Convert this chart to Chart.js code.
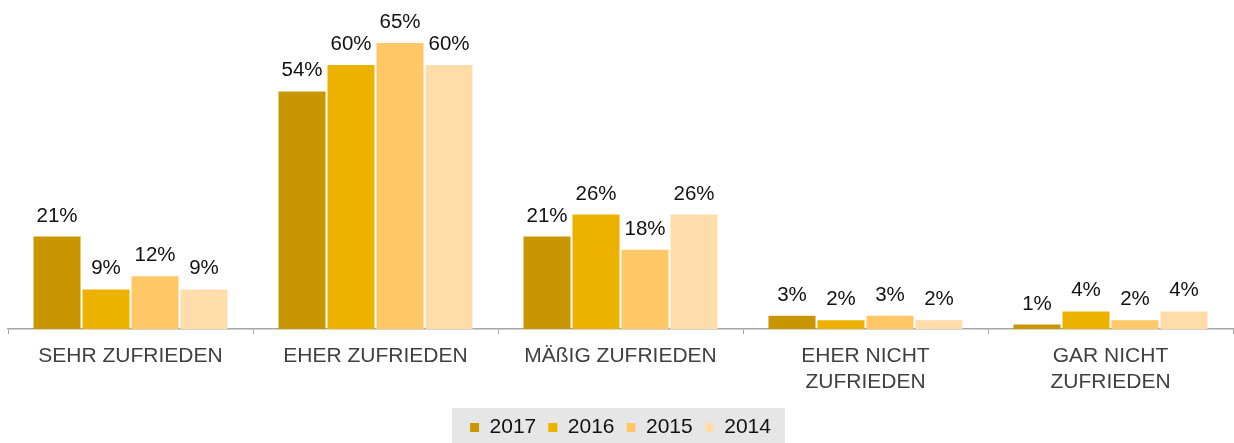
<!DOCTYPE html>
<html>
<head>
<meta charset="utf-8">
<script src="https://cdn.jsdelivr.net/npm/chart.js@4/dist/chart.umd.min.js"></script>
<style>
  html, body { margin: 0; padding: 0; background: #fff; }
  #wrap { width: 1234px; height: 443px; position: relative; }
</style>
</head>
<body>
<div id="wrap"><canvas id="chart"></canvas></div>
<script>
const categories = [
    ['SEHR ZUFRIEDEN'],
    ['EHER ZUFRIEDEN'],
    ['MÄßIG ZUFRIEDEN'],
    ['EHER NICHT', 'ZUFRIEDEN'],
    ['GAR NICHT', 'ZUFRIEDEN']
];
const years = ['2017', '2016', '2015', '2014'];
const values2017 = [21, 54, 21, 3, 1];
const values2016 = [9, 60, 26, 2, 4];
const values2015 = [12, 65, 18, 3, 2];
const values2014 = [9, 60, 26, 2, 4];
const colors = ['#C89600', '#EDB200', '#FFC766', '#FFDDAA'];

const FONT = "'Liberation Sans', Arial, Helvetica, sans-serif";

// value labels above each bar
const barLabels = {
    id: 'barLabels',
    afterDatasetsDraw(chart) {
        const ctx = chart.ctx;
        ctx.save();
        ctx.font = '20.5px ' + FONT;
        ctx.fillStyle = '#111';
        ctx.textAlign = 'center';
        ctx.textBaseline = 'alphabetic';
        chart.data.datasets.forEach((ds, i) => {
            chart.getDatasetMeta(i).data.forEach((bar, j) => {
                ctx.fillText(ds.data[j] + '%', bar.x, bar.y - 15);
            });
        });
        ctx.restore();
    }
};

// grey box behind the legend
const legendBg = {
    id: 'legendBg',
    beforeDraw(chart) {
        const boxes = chart.legend.legendHitBoxes;
        if (!boxes || !boxes.length) return;
        const left = Math.min(...boxes.map(b => b.left)) - 18;
        const right = Math.max(...boxes.map(b => b.left + b.width)) + 14;
        const ctx = chart.ctx;
        ctx.save();
        ctx.fillStyle = '#E6E6E6';
        ctx.fillRect(left, 408, right - left, 35);
        ctx.restore();
    }
};

const datasetValues = [values2017, values2016, values2015, values2014];

new Chart(document.getElementById('chart'), {
    type: 'bar',
    data: {
        labels: categories,
        datasets: years.map((y, i) => ({
            label: y,
            data: datasetValues[i],
            backgroundColor: colors[i],
            borderWidth: 0,
            categoryPercentage: 0.8,
            barPercentage: 0.96
        }))
    },
    options: {
        responsive: true,
        maintainAspectRatio: false,
        animation: false,
        layout: { padding: { left: 8, right: 1, top: 10, bottom: -5 } },
        scales: {
            x: {
                grid: { display: true, drawOnChartArea: false, color: '#A6A6A6', tickLength: 5, offset: true },
                border: { display: true, color: '#A6A6A6', width: 1.5 },
                ticks: {
                    font: { family: FONT, size: 21 },
                    color: '#404040',
                    padding: 10,
                    maxRotation: 0,
                    autoSkip: false
                },
                afterFit(scale) { scale.height = 76; }
            },
            y: {
                display: false,
                min: 0,
                max: 72.5
            }
        },
        plugins: {
            legend: {
                position: 'bottom',
                labels: {
                    font: { family: FONT, size: 21 },
                    color: '#111',
                    boxWidth: 9,
                    boxHeight: 9,
                    padding: 12
                }
            },
            tooltip: { enabled: false }
        }
    },
    plugins: [barLabels, legendBg]
});
</script>
</body>
</html>
